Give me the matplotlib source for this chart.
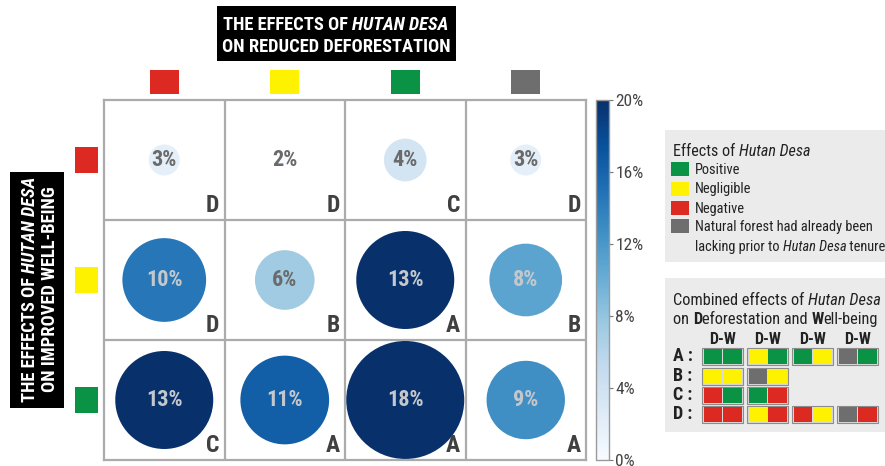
import matplotlib
matplotlib.use('Agg')
import matplotlib.pyplot as plt
import matplotlib.patches as mpatches
import matplotlib.transforms as mtransforms
from matplotlib import font_manager
from matplotlib.colors import Normalize
import matplotlib.colorbar as mcolorbar

W, H, DPI = 885, 466, 100

names = {f.name for f in font_manager.fontManager.ttflist}
FN = 'DejaVu Sans'
for cand in ['Liberation Sans Narrow', 'Roboto Condensed', 'Liberation Sans']:
    if cand in names:
        FN = cand
        break
plt.rcParams['font.family'] = [FN, 'DejaVu Sans']

# ---------------- data ----------------
effect_colors = {'Positive': '#0a9245', 'Negligible': '#fff200',
                 'Negative': '#dc2a22', 'Lacking': '#6e6e6e'}
defor_effects = ['Negative', 'Negligible', 'Positive', 'Lacking']      # columns
wellbeing_effects = ['Negative', 'Negligible', 'Positive']             # rows
share_pct = [[3, 2, 4, 3],
             [10, 6, 13, 8],
             [13, 11, 18, 9]]
grades = [['D', 'D', 'C', 'D'],
          ['D', 'B', 'A', 'B'],
          ['C', 'A', 'A', 'A']]
colorbar_ticks = [0, 4, 8, 12, 16, 20]
legend_items = ['Positive', 'Negligible', 'Negative']
combo_rows = ['A', 'B', 'C', 'D']
combos = {
    'A': [('Positive', 'Positive'), ('Negligible', 'Positive'),
          ('Positive', 'Negligible'), ('Lacking', 'Positive')],
    'B': [('Negligible', 'Negligible'), ('Lacking', 'Negligible')],
    'C': [('Negative', 'Positive'), ('Positive', 'Negative')],
    'D': [('Negative', 'Negative'), ('Negligible', 'Negative'),
          ('Negative', 'Negligible'), ('Lacking', 'Negative')],
}

fig = plt.figure(figsize=(W / DPI, H / DPI), dpi=DPI)
IDT = mtransforms.IdentityTransform()
R = fig.canvas.get_renderer()


def prect(x0, y0, x1, y1, **kw):
    """rectangle in top-left pixel coords"""
    fig.patches.append(mpatches.Rectangle((x0, H - y1), x1 - x0, y1 - y0,
                                          transform=IDT, **kw))


def seg_width(s, props):
    t1 = fig.text(0, 0, 'X' + s + 'X', transform=IDT, **props)
    t2 = fig.text(0, 0, 'XX', transform=IDT, **props)
    w = t1.get_window_extent(R).width - t2.get_window_extent(R).width
    t1.remove(); t2.remove()
    return w


def rich(x, y, segs, ha='left', rotation=0, **kw):
    """segments placed along a baseline; x,y top-left pixel coords of baseline anchor"""
    widths = []
    for s, st in segs:
        p = dict(kw); p.update(st)
        widths.append(seg_width(s, p))
    total = sum(widths)
    if rotation == 0:
        pos = x - (total / 2 if ha == 'center' else 0)
        for (s, st), w in zip(segs, widths):
            p = dict(kw); p.update(st)
            fig.text(pos, H - y, s, transform=IDT, ha='left', va='baseline', **p)
            pos += w
    else:
        pos = (H - y) - total / 2
        for (s, st), w in zip(segs, widths):
            p = dict(kw); p.update(st)
            fig.text(x, pos, s, transform=IDT, ha='left', va='baseline',
                     rotation=90, rotation_mode='anchor', **p)
            pos += w


# ---------------- main grid ----------------
ax = fig.add_axes([104 / W, 1 - 460 / H, (586 - 104) / W, 360 / H])
ax.set_xlim(0, 4)
ax.set_ylim(3, 0)
ax.set_xticks([]); ax.set_yticks([])
for sp in ax.spines.values():
    sp.set_color('#ababab'); sp.set_linewidth(1.6)
for xv in range(1, len(defor_effects)):
    ax.axvline(xv, color='#ababab', lw=1.6, zorder=1)
for yv in range(1, len(wellbeing_effects)):
    ax.axhline(yv, color='#ababab', lw=1.6, zorder=1)

xs, ys, vals = [], [], []
for r, row in enumerate(share_pct):
    for c, v in enumerate(row):
        xs.append(c + 0.5); ys.append(r + 0.5); vals.append(v)
vmin, vmax = min(vals), max(vals)
s_min, s_max = 50, 7218
sizes = [s_min + (v - vmin) / (vmax - vmin) * (s_max - s_min) for v in vals]
cnorm = Normalize(vmin=vmin, vmax=13, clip=True)
cmap = plt.get_cmap('Blues')
ax.scatter(xs, ys, s=sizes, c=[cmap(cnorm(v)) for v in vals], linewidths=0, zorder=2)

for x, y, v in zip(xs, ys, vals):
    ax.text(x, y, f'{v}%', ha='center', va='center', fontsize=16, fontweight='bold',
            color='#c4c8cc' if v >= 8 else '#6a6a6a', zorder=3)
for r, row in enumerate(grades):
    for c, g in enumerate(row):
        ax.text(c + 1 - 0.045, r + 1 - 0.022, g, ha='right', va='bottom', fontsize=17,
                fontweight='bold', color='#404040', zorder=3)

# column / row colour keys
btx = mtransforms.blended_transform_factory(ax.transData, IDT)
for c, e in enumerate(defor_effects):
    ax.add_patch(mpatches.Rectangle((c + 0.5 - 0.12, H - 94), 0.24, 24, transform=btx,
                                    facecolor=effect_colors[e], edgecolor='none', clip_on=False))
bty = mtransforms.blended_transform_factory(IDT, ax.transData)
for r, e in enumerate(wellbeing_effects):
    ax.add_patch(mpatches.Rectangle((75, r + 0.5 - 0.112), 23, 0.224, transform=bty,
                                    facecolor=effect_colors[e], edgecolor='none', clip_on=False))

# ---------------- colorbar ----------------
cax = fig.add_axes([596 / W, 1 - 460 / H, 13 / W, 360 / H])
cb = mcolorbar.ColorbarBase(cax, cmap=cmap, norm=Normalize(0, 20), ticks=colorbar_ticks)
cb.ax.set_yticklabels([f'{t}%' for t in colorbar_ticks])
cb.outline.set_edgecolor('#9a9a9a')
cb.outline.set_linewidth(1.0)
cax.tick_params(length=3, width=0.8, color='#777777', labelsize=12.5, labelcolor='#444444', pad=1.5)

# ---------------- title boxes ----------------
prect(217, 6, 456, 61, facecolor='black', edgecolor='none')
tk = dict(color='white', fontsize=13.3, fontweight='bold')
rich(336, 30, [('THE EFFECTS OF ', {}), ('HUTAN DESA', {'fontstyle': 'italic'})], ha='center', **tk)
rich(336, 52, [('ON REDUCED DEFORESTATION', {})], ha='center', **tk)

prect(10, 172, 64, 408, facecolor='black', edgecolor='none')
rich(35, 289, [('THE EFFECTS OF ', {}), ('HUTAN DESA', {'fontstyle': 'italic'})], rotation=90, **tk)
rich(55, 289, [('ON IMPROVED WELL-BEING', {})], rotation=90, **tk)

# ---------------- legend 1 ----------------
prect(665, 130, 885, 262, facecolor='#ebebeb', edgecolor='none')
lk = dict(color='#222222', fontsize=10.4)
rich(673, 156, [('Effects of ', {}), ('Hutan Desa', {'fontstyle': 'italic'})],
     color='#222222', fontsize=11.6)
leg_y = [169, 188.5, 207.5]
for e, yc in zip(legend_items, leg_y):
    prect(671, yc - 7, 689, yc + 7, facecolor=effect_colors[e], edgecolor='none')
    rich(695, yc + 5, [(e, {})], **lk)
prect(671, 219, 689, 233, facecolor=effect_colors['Lacking'], edgecolor='none')
rich(695, 231, [('Natural forest had already been', {})], **lk)
rich(695, 251, [('lacking prior to ', {}), ('Hutan Desa', {'fontstyle': 'italic'}),
                (' tenure', {})], **lk)

# ---------------- legend 2 ----------------
lk2 = dict(color='#222222', fontsize=11.8)
prect(665, 278, 885, 432, facecolor='#ebebeb', edgecolor='none')
rich(673, 305, [('Combined effects of ', {}), ('Hutan Desa', {'fontstyle': 'italic'})], **lk2)
rich(673, 324, [('on ', {}), ('D', {'fontweight': 'bold'}), ('eforestation and ', {}),
                ('W', {'fontweight': 'bold'}), ('ell-being', {})], **lk2)
pair_x = [702, 747, 792, 837]
row_y = [356, 376, 395, 414]
for px in pair_x:
    fig.text(px + 20.5, H - 340, 'D-W', transform=IDT, ha='center', va='center',
             fontsize=11.5, fontweight='bold', color='#222222')
for rl, yc in zip(combo_rows, row_y):
    fig.text(673, H - yc, rl + ' :', transform=IDT, ha='left', va='center',
             fontsize=13, fontweight='bold', color='#222222')
    for (d, w), px in zip(combos[rl], pair_x):
        prect(px, yc - 8.5, px + 41, yc + 8.5, facecolor='#d9d9d9', edgecolor='#8c8c8c', lw=0.8)
        prect(px + 1.5, yc - 7.5, px + 19.7, yc + 7.5, facecolor=effect_colors[d], edgecolor='none')
        prect(px + 21.3, yc - 7.5, px + 39.5, yc + 7.5, facecolor=effect_colors[w], edgecolor='none')

fig.savefig('out.png', dpi=DPI)
